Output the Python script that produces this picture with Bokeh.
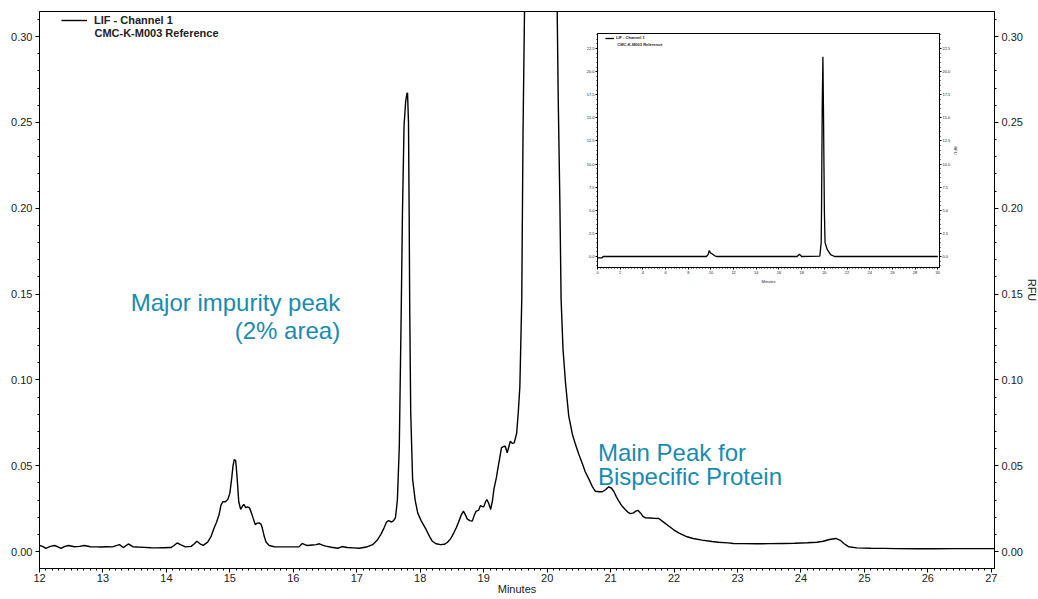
from bokeh.plotting import figure
from bokeh.models import (Range1d, LinearAxis, SingleIntervalTicker, PrintfTickFormatter,
                          Label, Legend, LegendItem)
from bokeh.layouts import column
from bokeh.embed import file_html
from bokeh.resources import INLINE

# ---------------- data ----------------
main_time = [
    12.00, 12.05, 12.10, 12.17, 12.24, 12.30, 12.34, 12.40, 12.46, 12.55, 12.63, 12.71,
    12.80, 12.90, 12.97, 13.05, 13.15, 13.26, 13.32, 13.40, 13.47, 13.55, 13.65, 13.75,
    13.85, 13.95, 14.07, 14.12, 14.17, 14.22, 14.30, 14.39, 14.44, 14.48, 14.53, 14.58,
    14.65, 14.70, 14.75, 14.79, 14.83, 14.86, 14.89, 14.93, 14.97, 15.00, 15.03, 15.05,
    15.07, 15.09, 15.10, 15.12, 15.14, 15.17, 15.20, 15.22, 15.25, 15.28, 15.31, 15.34,
    15.37, 15.40, 15.43, 15.46, 15.49, 15.51, 15.54, 15.57, 15.62, 15.70, 15.80, 15.95,
    16.09, 16.14, 16.18, 16.22, 16.30, 16.36, 16.41, 16.46, 16.51, 16.60, 16.70, 16.77,
    16.85, 16.95, 17.04, 17.15, 17.25, 17.32, 17.38, 17.43, 17.47, 17.50, 17.55, 17.58,
    17.61, 17.64, 17.67, 17.70, 17.72, 17.745, 17.77, 17.79, 17.80, 17.815, 17.825, 17.835,
    17.85, 17.88, 17.92, 17.96, 18.02, 18.09, 18.15, 18.19, 18.25, 18.32, 18.38, 18.43,
    18.48, 18.53, 18.57, 18.61, 18.65, 18.68, 18.71, 18.74, 18.78, 18.82, 18.85, 18.88,
    18.92, 18.95, 18.98, 19.00, 19.03, 19.05, 19.08, 19.11, 19.14, 19.16, 19.20, 19.23,
    19.26, 19.28, 19.31, 19.34, 19.37, 19.40, 19.42, 19.45, 19.48, 19.50, 19.52, 19.545,
    19.57, 19.60, 19.62, 19.645, 19.70, 19.75, 19.81, 19.87, 19.95, 20.02, 20.08, 20.13,
    20.16, 20.175, 20.20, 20.22, 20.25, 20.29, 20.34, 20.40, 20.45, 20.50, 20.55, 20.60,
    20.66, 20.71, 20.76, 20.82, 20.87, 20.92, 20.97, 21.01, 21.05, 21.09, 21.13, 21.18,
    21.23, 21.27, 21.31, 21.36, 21.40, 21.43, 21.47, 21.51, 21.55, 21.62, 21.70, 21.76,
    21.84, 21.92, 22.00, 22.08, 22.18, 22.30, 22.44, 22.60, 22.70, 22.85, 22.94, 23.10,
    23.30, 23.50, 23.72, 23.90, 24.10, 24.25, 24.35, 24.45, 24.55, 24.62, 24.68, 24.75,
    24.88, 25.10, 25.30, 25.50, 25.82, 26.10, 26.40, 26.70, 26.97, 27.05,
]
main_rfu = [
    0.0035, 0.0030, 0.0018, 0.0030, 0.0035, 0.0025, 0.0018, 0.0030, 0.0035, 0.0028, 0.0030, 0.0035,
    0.0028, 0.0027, 0.0026, 0.0028, 0.0027, 0.0040, 0.0023, 0.0044, 0.0028, 0.0026, 0.0024, 0.0022,
    0.0021, 0.0022, 0.0023, 0.0035, 0.0050, 0.0040, 0.0027, 0.0030, 0.0045, 0.0060, 0.0045, 0.0036,
    0.0055, 0.0085, 0.0135, 0.0170, 0.0215, 0.0270, 0.0290, 0.0290, 0.0305, 0.0340, 0.0430, 0.0500,
    0.0536, 0.0530, 0.0497, 0.0400, 0.0290, 0.0245, 0.0265, 0.0274, 0.0256, 0.0260, 0.0254, 0.0225,
    0.0190, 0.0157, 0.0165, 0.0167, 0.0160, 0.0138, 0.0090, 0.0055, 0.0035, 0.0028, 0.0027, 0.0027,
    0.0027, 0.0047, 0.0040, 0.0035, 0.0038, 0.0040, 0.0045, 0.0037, 0.0031, 0.0025, 0.0019, 0.0029,
    0.0023, 0.0021, 0.0019, 0.0026, 0.0040, 0.0065, 0.0100, 0.0138, 0.0172, 0.0180, 0.0172, 0.0180,
    0.0198, 0.0300, 0.0610, 0.1390, 0.1975, 0.2480, 0.2620, 0.2668, 0.2672, 0.2500, 0.2000, 0.1390,
    0.0810, 0.0420, 0.0300, 0.0225, 0.0175, 0.0130, 0.0085, 0.0060, 0.0045, 0.0040, 0.0042, 0.0054,
    0.0075, 0.0109, 0.0140, 0.0177, 0.0215, 0.0235, 0.0215, 0.0190, 0.0180, 0.0177, 0.0210, 0.0235,
    0.0240, 0.0268, 0.0262, 0.0260, 0.0290, 0.0303, 0.0280, 0.0245, 0.0300, 0.0360, 0.0430, 0.0497,
    0.0560, 0.0604, 0.0612, 0.0613, 0.0575, 0.0615, 0.0643, 0.0630, 0.0633, 0.0660, 0.0690, 0.0810,
    0.0960, 0.1470, 0.2440, 0.3200, 2.0000, 5.1000, 15.900, 21.600, 15.000, 5.0000, 1.5000, 0.5000,
    0.3100, 0.2630, 0.2050, 0.1470, 0.1180, 0.0980, 0.0790, 0.0680, 0.0620, 0.0565, 0.0517, 0.0465,
    0.0420, 0.0380, 0.0351, 0.0348, 0.0348, 0.0360, 0.0377, 0.0370, 0.0351, 0.0320, 0.0293, 0.0265,
    0.0245, 0.0230, 0.0221, 0.0225, 0.0236, 0.0240, 0.0225, 0.0205, 0.0196, 0.0195, 0.0193, 0.0192,
    0.0170, 0.0147, 0.0125, 0.0107, 0.0089, 0.0076, 0.0066, 0.0058, 0.0054, 0.0050, 0.0047, 0.0046,
    0.0045, 0.0046, 0.0047, 0.0048, 0.0051, 0.0054, 0.0060, 0.0070, 0.0076, 0.0065, 0.0045, 0.0028,
    0.0021, 0.0019, 0.0018, 0.0017, 0.0016, 0.0016, 0.0017, 0.0017, 0.0017, 0.0017,
]

inset_time = [0.00, 0.40, 0.50, 9.60, 9.75, 9.85, 9.95, 10.10, 10.30, 10.50, 17.60, 17.80,
              18.00, 19.60, 19.72, 19.75, 19.81, 19.87, 19.92, 20.00, 20.06, 20.25, 20.55,
              20.90, 30.00]
inset_rfu = [-0.15, -0.15, 0.00, 0.00, 0.20, 0.65, 0.40, 0.30, 0.10, 0.00, 0.00, 0.25,
             0.00, 0.05, 1.50, 5.10, 15.90, 21.60, 16.00, 5.00, 1.50, 0.76, 0.20,
             0.00, 0.00]

legend_line1 = "LIF - Channel 1"
legend_line2 = "CMC-K-M003 Reference"
x_title = "Minutes"
y_title = "RFU"
note_impurity = ["Major impurity peak", "(2% area)"]
note_main = ["Main Peak for", "Bispecific Protein"]

FONT = "Liberation Sans"
TEAL = "#1a8bb0"
INK = "#222222"

# ---------------- main chart ----------------
p = figure(frame_width=955, frame_height=557,
           x_range=Range1d(12, 27.05), y_range=Range1d(-0.0099, 0.3146),
           output_backend="svg", toolbar_location=None, title=None,
           min_border_left=39, min_border_right=42, min_border_top=11, min_border_bottom=29)
p.grid.visible = False
p.outline_line_color = "black"
p.outline_line_width = 1
p.background_fill_color = "white"
p.border_fill_color = "white"

def style_axis(ax, size, tick_out, minor_out, standoff):
    ax.axis_line_color = "black"
    ax.major_tick_line_color = "black"
    ax.minor_tick_line_color = "black"
    ax.major_tick_out = tick_out
    ax.major_tick_in = 0
    ax.minor_tick_out = minor_out
    ax.minor_tick_in = 0
    ax.major_label_text_font = FONT
    ax.major_label_text_font_size = size
    ax.major_label_text_color = INK
    ax.major_label_standoff = standoff

def style_title(ax, text, size, standoff):
    ax.axis_label = text
    ax.axis_label_text_font = FONT
    ax.axis_label_text_font_size = size
    ax.axis_label_text_font_style = "normal"
    ax.axis_label_text_color = INK
    ax.axis_label_standoff = standoff

xax = p.xaxis[0]
xax.ticker = SingleIntervalTicker(interval=1, num_minor_ticks=10)
style_axis(xax, "11px", 4, 2, 1)
style_title(xax, x_title, "11px", -2)

yax = p.yaxis[0]
yax.ticker = SingleIntervalTicker(interval=0.05, num_minor_ticks=5)
yax.formatter = PrintfTickFormatter(format="%.2f")
style_axis(yax, "11px", 4, 2, 3)

ryax = LinearAxis(ticker=SingleIntervalTicker(interval=0.05, num_minor_ticks=5),
                  formatter=PrintfTickFormatter(format="%.2f"))
style_axis(ryax, "11px", 4, 2, 3)
style_title(ryax, y_title, "11px", 0)
p.add_layout(ryax, "right")

trace = p.line(main_time, main_rfu, line_color="black", line_width=1.4)

leg = Legend(items=[LegendItem(label=legend_line1, renderers=[trace])], location=(22, 542),
             label_text_font=FONT, label_text_font_size="11px", label_text_font_style="bold",
             label_text_color=INK, glyph_width=26, glyph_height=10, label_height=10,
             label_standoff=7, padding=0, spacing=0, margin=0,
             border_line_alpha=0, background_fill_alpha=0)
p.add_layout(leg)

p.add_layout(Label(x=12.866, y=0.3023, text=legend_line2, text_font=FONT, text_font_size="11px",
                   text_font_style="bold", text_color=INK, text_baseline="middle"))

for txt, yy in zip(note_impurity, [0.145, 0.1287]):
    p.add_layout(Label(x=16.738, y=yy, text=txt, text_font=FONT, text_font_size="24px",
                       text_color=TEAL, text_align="right", text_baseline="alphabetic"))
for txt, yy in zip(note_main, [0.0577, 0.0437]):
    p.add_layout(Label(x=20.80, y=yy, text=txt, text_font=FONT, text_font_size="24px",
                       text_color=TEAL, text_align="left", text_baseline="alphabetic"))

# ---------------- inset (full run) ----------------
q = figure(frame_width=342, frame_height=234,
           x_range=Range1d(0, 30.15), y_range=Range1d(-1.19, 24.13),
           output_backend="svg", toolbar_location=None, title=None,
           min_border_left=27, min_border_right=40, min_border_top=10, min_border_bottom=22)
q.grid.visible = False
q.outline_line_color = "black"
q.background_fill_color = "white"
q.border_fill_alpha = 0

qx = q.xaxis[0]
qx.ticker = SingleIntervalTicker(interval=2, num_minor_ticks=8)
style_axis(qx, "4px", 2, 1, 1)
style_title(qx, x_title, "4px", 2)

qy = q.yaxis[0]
qy.ticker = SingleIntervalTicker(interval=2.5, num_minor_ticks=5)
qy.formatter = PrintfTickFormatter(format="%.1f")
style_axis(qy, "4px", 2, 1, 1)

qry = LinearAxis(ticker=SingleIntervalTicker(interval=2.5, num_minor_ticks=5),
                 formatter=PrintfTickFormatter(format="%.1f"))
style_axis(qry, "4px", 2, 1, 1)
style_title(qry, y_title, "4px", 0)
q.add_layout(qry, "right")

itrace = q.line(inset_time, inset_rfu, line_color="black", line_width=1.3)
ileg = Legend(items=[LegendItem(label=legend_line1, renderers=[itrace])], location=(8, 227),
              label_text_font=FONT, label_text_font_size="4px", label_text_font_style="bold",
              label_text_color=INK, glyph_width=9, glyph_height=4, label_height=4,
              label_standoff=2, padding=0, spacing=0, margin=0,
              border_line_alpha=0, background_fill_alpha=0)
q.add_layout(ileg)
q.add_layout(Label(x=1.75, y=22.9, text=legend_line2, text_font=FONT, text_font_size="4px",
                   text_font_style="bold", text_color=INK, text_baseline="middle"))

q.styles = {"position": "absolute", "left": "558px", "top": "23px", "z-index": "5",
            "background": "transparent"}
layout = column(p, q)
layout.styles = {"position": "relative"}

open("out.html", "w").write(file_html(layout, INLINE))
